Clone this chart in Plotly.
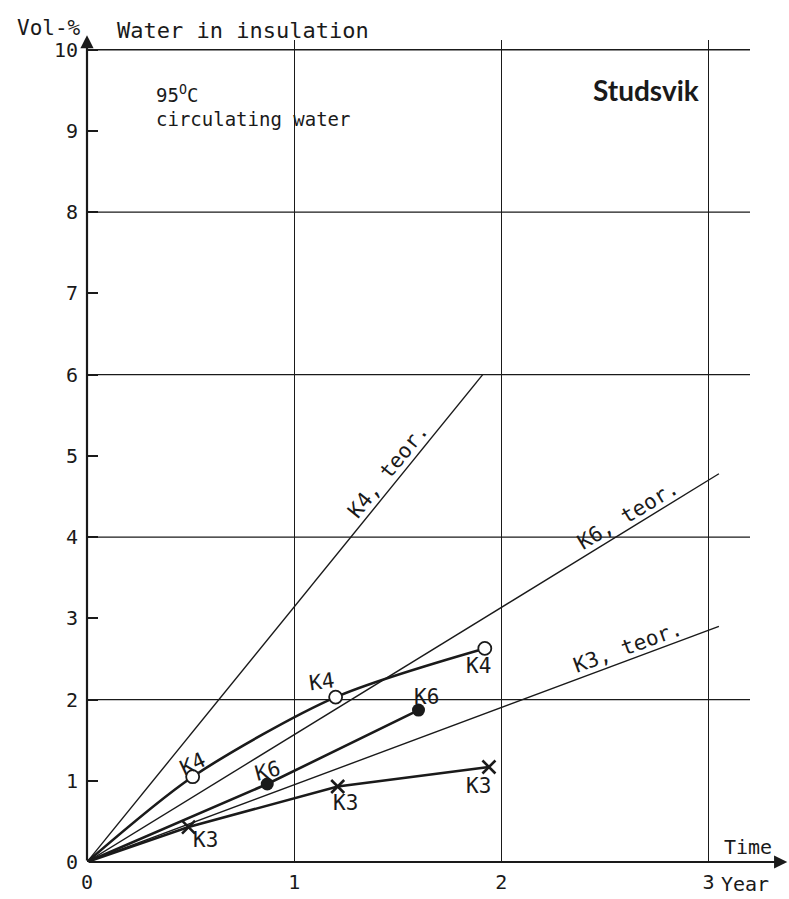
import plotly.graph_objects as go

# ---- data ----
k4_x = [0, 0.51, 1.20, 1.92]
k4_y = [0, 1.05, 2.03, 2.63]
k6_x = [0, 0.87, 1.60]
k6_y = [0, 0.96, 1.87]
k3_x = [0, 0.49, 1.21, 1.94]
k3_y = [0, 0.43, 0.93, 1.17]

teor_names = ["K4, teor.", "K6, teor.", "K3, teor."]
teor_end_x = [1.91, 3.05, 3.05]
teor_end_y = [6.0, 4.78, 2.90]
teor_label_x = [1.50, 2.64, 2.63]
teor_label_y = [4.72, 4.14, 2.50]
teor_label_angle = [-51, -31, -20]
teor_label_shift = [(-10, 8), (-6, 11), (-4, 12)]

x_ticks = [0, 1, 2, 3]
x_ticktext = ["0", "1", "2", "3"]
y_ticks = list(range(0, 11))
y_grid = [2, 4, 6, 8, 10]

pt_labels = ["K4", "K4", "K4", "K6", "K6", "K3", "K3", "K3"]
pt_label_x = [0.51, 1.13, 1.89, 0.87, 1.64, 0.57, 1.25, 1.89]
pt_label_y = [1.21, 2.22, 2.41, 1.12, 2.03, 0.27, 0.73, 0.94]
pt_label_angle = [-25, -8, 0, -15, 0, 0, 0, 0]

FONT = "DejaVu Sans Mono"
INK = "#1a1a1a"
FS = 20

fig = go.Figure()

# theoretical lines
for name, ex, ey in zip(teor_names, teor_end_x, teor_end_y):
    fig.add_trace(go.Scatter(x=[0, ex], y=[0, ey], mode="lines",
                             line=dict(color=INK, width=1.4), name=name,
                             showlegend=False, hoverinfo="skip"))

# measured series
fig.add_trace(go.Scatter(x=k4_x, y=k4_y, mode="lines",
                         line=dict(color=INK, width=2.6, shape="spline", smoothing=0.8),
                         showlegend=False))
fig.add_trace(go.Scatter(x=k4_x[1:], y=k4_y[1:], mode="markers",
                         marker=dict(symbol="circle", size=13, color="white", line=dict(color=INK, width=1.8)),
                         showlegend=False))
fig.add_trace(go.Scatter(x=k6_x, y=k6_y, mode="lines", line=dict(color=INK, width=2.6),
                         showlegend=False))
fig.add_trace(go.Scatter(x=k6_x[1:], y=k6_y[1:], mode="markers",
                         marker=dict(symbol="circle", size=13, color=INK, line=dict(width=0)),
                         showlegend=False))
fig.add_trace(go.Scatter(x=k3_x, y=k3_y, mode="lines", line=dict(color=INK, width=2.6), showlegend=False))
fig.add_trace(go.Scatter(x=k3_x[1:], y=k3_y[1:], mode="markers",
                         marker=dict(symbol="x-thin", size=13, color=INK, line=dict(color=INK, width=2.6)),
                         showlegend=False))

# horizontal grid lines at even values
for g in y_grid:
    fig.add_shape(type="line", xref="x", yref="y", x0=0, x1=3.2, y0=g, y1=g,
                  line=dict(color=INK, width=1.3), layer="below")

annotations = []
# axis arrows
annotations.append(dict(x=3.38, y=0, ax=0, ay=0, xref="x", yref="y", axref="x", ayref="y",
                        text="", showarrow=True, arrowhead=2, arrowsize=1.2, arrowwidth=2.2, arrowcolor=INK))
annotations.append(dict(x=0, y=10.18, ax=0, ay=0, xref="x", yref="y", axref="x", ayref="y",
                        text="", showarrow=True, arrowhead=2, arrowsize=1.2, arrowwidth=2.2, arrowcolor=INK))

for t, x, y, a, (sx, sy) in zip(teor_names, teor_label_x, teor_label_y, teor_label_angle, teor_label_shift):
    annotations.append(dict(x=x, y=y, xref="x", yref="y", text=t, showarrow=False, textangle=a,
                            xshift=sx, yshift=sy, font=dict(family=FONT, size=21, color=INK)))
for t, x, y, a in zip(pt_labels, pt_label_x, pt_label_y, pt_label_angle):
    annotations.append(dict(x=x, y=y, xref="x", yref="y", text=t, showarrow=False, textangle=a,
                            font=dict(family=FONT, size=21, color=INK)))

annotations += [
    dict(x=-0.006, y=1.015, xref="paper", yref="paper", text="Vol-%", xanchor="right", yanchor="middle",
         showarrow=False, font=dict(family=FONT, size=21, color=INK)),
    dict(x=0.042, y=1.011, xref="paper", yref="paper", text="Water in insulation", xanchor="left",
         yanchor="middle", showarrow=False, font=dict(family=FONT, size=22, color=INK)),
    dict(x=0.325, y=9.45, xref="x", yref="y", text="95<sup>O</sup>C", xanchor="left",
         yanchor="middle", showarrow=False, font=dict(family=FONT, size=19, color=INK)),
    dict(x=0.325, y=9.15, xref="x", yref="y", text="circulating water", xanchor="left",
         yanchor="middle", showarrow=False, font=dict(family=FONT, size=19, color=INK)),
    dict(x=2.70, y=9.50, xref="x", yref="y", text="<b>Studsvik</b>", xanchor="center", yanchor="middle",
         showarrow=False, font=dict(family="Lato", size=28, color=INK)),
    dict(x=0.997, y=0.018, xref="paper", yref="paper", text="Time", xanchor="center", yanchor="middle",
         showarrow=False, font=dict(family=FONT, size=FS, color=INK)),
    dict(x=3.0, y=-0.027, xref="x", yref="paper", text="Year", xanchor="left", yanchor="middle", xshift=10,
         showarrow=False, font=dict(family=FONT, size=FS, color=INK)),
]

fig.update_layout(
    width=789, height=899,
    margin=dict(l=87, r=39, t=40, b=37),
    paper_bgcolor="white", plot_bgcolor="white",
    showlegend=False,
    annotations=annotations,
    xaxis=dict(range=[0, 3.2], tickvals=x_ticks, ticktext=x_ticktext, showgrid=True,
               gridcolor=INK, gridwidth=1.3, zeroline=False, showline=False, ticks="",
               ticklabelstandoff=6, automargin=False,
               tickfont=dict(family=FONT, size=FS, color=INK), fixedrange=True),
    yaxis=dict(range=[0, 10.12], tickvals=y_ticks, showgrid=False, zeroline=False, showline=False,
               ticks="inside", ticklen=11, tickwidth=1.6, tickcolor=INK, automargin=False,
               ticklabelstandoff=8,
               tickfont=dict(family=FONT, size=FS, color=INK), fixedrange=True),
)

fig.write_html("out.html", config={"displayModeBar": False},
               post_script="document.body.style.margin='0';")
